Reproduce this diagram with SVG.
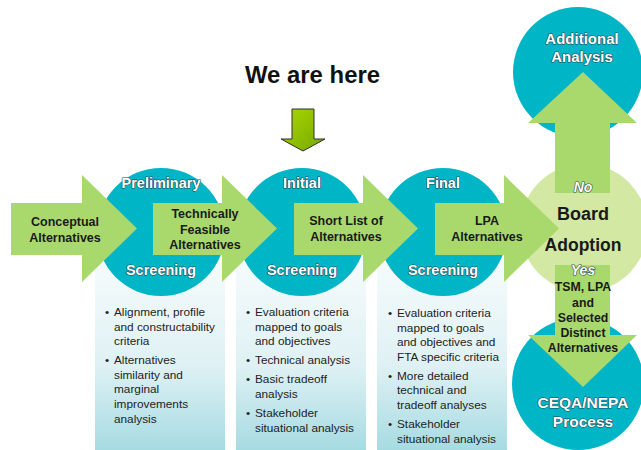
<svg xmlns="http://www.w3.org/2000/svg" width="641" height="450" viewBox="0 0 641 450">
  <defs>
    <linearGradient id="panelGrad" x1="0" y1="0" x2="0" y2="1">
      <stop offset="0" stop-color="#f5fbfc"/>
      <stop offset="0.55" stop-color="#dff1f4"/>
      <stop offset="1" stop-color="#a6dbe2"/>
    </linearGradient>
    <linearGradient id="pointerGrad" x1="0" y1="0" x2="1" y2="1">
      <stop offset="0" stop-color="#a8d800"/>
      <stop offset="1" stop-color="#78a800"/>
    </linearGradient>
    <style>
      .panel { fill: url(#panelGrad); }
      .stage { fill: #00b5c6; }
      .board { fill: #d3e8a3; }
      .flow { fill: #a9d96c; }
      .lbl { font-family: "Liberation Sans", Arial, sans-serif; font-weight: bold; fill: #1a1a1a; text-anchor: middle; }
      .wlbl { font-family: "Liberation Sans", Arial, sans-serif; font-weight: bold; fill: #ffffff; text-anchor: middle;
              stroke: #1f4c55; stroke-width: 1.2; paint-order: stroke; stroke-linejoin: round; }
      .bul { font-family: "Liberation Sans", Arial, sans-serif; font-size: 11.8px; fill: #222222; }
      .title { font-family: "Liberation Sans", Arial, sans-serif; font-weight: bold; font-size: 23.5px; fill: #111111; }
    </style>
  </defs>

  <rect width="641" height="450" fill="#ffffff"/>

  <!-- Title and pointer -->
  <g id="we-are-here">
    <text class="title" x="245" y="83" textLength="135" lengthAdjust="spacingAndGlyphs">We are here</text>
    <path d="M292,109 H314 V139 H325 L303,151 L281,139 H292 Z" fill="url(#pointerGrad)" stroke="#2f2f2f" stroke-width="1"/>
  </g>

  <!-- Description panels -->
  <g id="panel-preliminary">
    <rect class="panel" x="95" y="262" width="130" height="188"/>
    <g class="bul">
      <text x="105" y="316">•</text>
      <text x="114" y="316">Alignment, profile</text>
      <text x="114" y="331">and constructability</text>
      <text x="114" y="345">criteria</text>
      <text x="105" y="364">•</text>
      <text x="114" y="364">Alternatives</text>
      <text x="114" y="379">similarity and</text>
      <text x="114" y="393">marginal</text>
      <text x="114" y="408">improvements</text>
      <text x="114" y="423">analysis</text>
    </g>
  </g>
  <g id="panel-initial">
    <rect class="panel" x="236" y="262" width="130" height="188"/>
    <g class="bul">
      <text x="246" y="316">•</text>
      <text x="255" y="316">Evaluation criteria</text>
      <text x="255" y="331">mapped to goals</text>
      <text x="255" y="345">and objectives</text>
      <text x="246" y="364">•</text>
      <text x="255" y="364">Technical analysis</text>
      <text x="246" y="383">•</text>
      <text x="255" y="383">Basic tradeoff</text>
      <text x="255" y="398">analysis</text>
      <text x="246" y="417">•</text>
      <text x="255" y="417">Stakeholder</text>
      <text x="255" y="432">situational analysis</text>
    </g>
  </g>
  <g id="panel-final">
    <rect class="panel" x="377" y="262" width="130" height="188"/>
    <g class="bul">
      <text x="388" y="317">•</text>
      <text x="397" y="317">Evaluation criteria</text>
      <text x="397" y="332">mapped to goals</text>
      <text x="397" y="346">and objectives and</text>
      <text x="397" y="361">FTA specific criteria</text>
      <text x="388" y="380">•</text>
      <text x="397" y="380">More detailed</text>
      <text x="397" y="394">technical and</text>
      <text x="397" y="409">tradeoff analyses</text>
      <text x="388" y="428">•</text>
      <text x="397" y="428">Stakeholder</text>
      <text x="397" y="443">situational analysis</text>
    </g>
  </g>

  <!-- Stage circles -->
  <g id="stage-preliminary">
    <circle class="stage" cx="161" cy="232" r="64"/>
    <text class="wlbl" x="161" y="188" font-size="14.5">Preliminary</text>
    <text class="wlbl" x="161" y="275" font-size="14.5">Screening</text>
  </g>
  <g id="stage-initial">
    <circle class="stage" cx="302" cy="232" r="64"/>
    <text class="wlbl" x="302" y="188" font-size="14.5">Initial</text>
    <text class="wlbl" x="302" y="275" font-size="14.5">Screening</text>
  </g>
  <g id="stage-final">
    <circle class="stage" cx="443" cy="232" r="64"/>
    <text class="wlbl" x="443" y="188" font-size="14.5">Final</text>
    <text class="wlbl" x="443" y="275" font-size="14.5">Screening</text>
  </g>
  <g id="additional-analysis">
    <circle class="stage" cx="578" cy="72" r="65"/>
  </g>
  <g id="ceqa-nepa">
    <circle class="stage" cx="578" cy="384" r="66"/>
  </g>
  <g id="board-adoption">
    <circle class="board" cx="584" cy="228" r="64"/>
  </g>

  <!-- Flow arrows -->
  <g id="connectors">
    <g id="arrow-conceptual">
      <path class="flow" d="M11,203 H82 V175 L137,228.5 L82,282 V255 H11 Z"/>
      <text class="lbl" font-size="12.5" x="65" y="226">Conceptual</text>
      <text class="lbl" font-size="12.5" x="65" y="242">Alternatives</text>
    </g>
    <g id="arrow-feasible">
      <path class="flow" d="M153,203 H222 V175 L277,228.5 L222,282 V255 H153 Z"/>
      <text class="lbl" font-size="12.5" x="205" y="218">Technically</text>
      <text class="lbl" font-size="12.5" x="205" y="234">Feasible</text>
      <text class="lbl" font-size="12.5" x="205" y="249">Alternatives</text>
    </g>
    <g id="arrow-shortlist">
      <path class="flow" d="M294,203 H363 V175 L418,228.5 L363,282 V255 H294 Z"/>
      <text class="lbl" font-size="12.5" x="346" y="225">Short List of</text>
      <text class="lbl" font-size="12.5" x="346" y="241">Alternatives</text>
    </g>
    <g id="arrow-lpa">
      <path class="flow" d="M435,203 H504 V175 L559,228.5 L504,282 V255 H435 Z"/>
      <text class="lbl" font-size="12.5" x="487" y="225">LPA</text>
      <text class="lbl" font-size="12.5" x="487" y="241">Alternatives</text>
    </g>
    <g id="arrow-no">
      <path class="flow" d="M555,193 V123 H528 L583,72 L637,123 H610 V193 Z"/>
      <text class="wlbl" font-size="14" font-style="italic" x="583" y="192">No</text>
    </g>
    <g id="arrow-yes">
      <path class="flow" d="M555,265 V335 H528 L583,387 L637,335 H610 V265 Z"/>
      <text class="wlbl" font-size="14" font-style="italic" x="583" y="275">Yes</text>
      <text class="lbl" font-size="12.3" x="583" y="291">TSM, LPA</text>
      <text class="lbl" font-size="12.3" x="583" y="307">and</text>
      <text class="lbl" font-size="12.3" x="583" y="322">Selected</text>
      <text class="lbl" font-size="12.3" x="583" y="337">Distinct</text>
      <text class="lbl" font-size="12.3" x="583" y="352">Alternatives</text>
    </g>
  </g>

  <!-- Labels drawn over arrows -->
  <g id="board-labels">
    <text class="lbl" font-size="18" x="583" y="220">Board</text>
    <text class="lbl" font-size="17.5" x="583" y="251">Adoption</text>
  </g>
  <g id="additional-labels">
    <text class="wlbl" font-size="15" x="582" y="44">Additional</text>
    <text class="wlbl" font-size="15" x="582" y="62">Analysis</text>
  </g>
  <g id="ceqa-labels">
    <text class="wlbl" font-size="15.5" x="583" y="408">CEQA/NEPA</text>
    <text class="wlbl" font-size="15.5" x="583" y="427">Process</text>
  </g>
</svg>
